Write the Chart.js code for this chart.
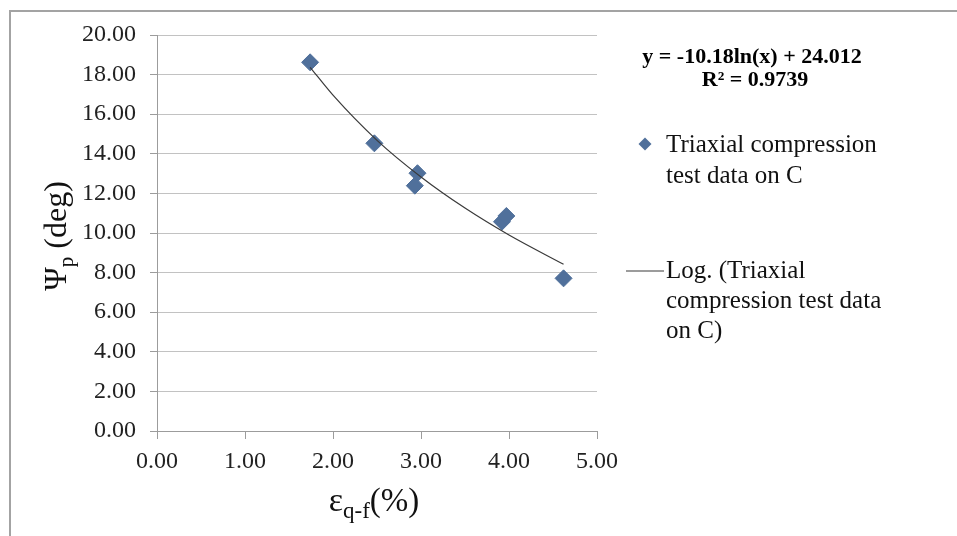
<!DOCTYPE html>
<html>
<head>
<meta charset="utf-8">
<script src="https://cdn.jsdelivr.net/npm/chart.js@4.4.1/dist/chart.umd.min.js"></script>
<style>
  html, body { margin: 0; padding: 0; background: #fff; }
  #wrap { width: 957px; height: 536px; position: relative; }
</style>
</head>
<body>
<div id="wrap"><canvas id="chart" width="957" height="536"></canvas></div>
<script>
// measured points (peak dilation angle vs axial strain at failure)
const strainPct = [1.74, 2.47, 2.96, 2.93, 3.92, 3.97, 4.62];
const dilationDeg = [18.62, 14.53, 13.02, 12.39, 10.57, 10.86, 7.71];

// log trendline, values
const trendX = [1.74, 2.0, 2.5, 3.0, 3.5, 4.0, 4.62];
const trendY = [18.37, 16.96, 14.68, 12.83, 11.26, 9.90, 8.42];

const xTicks = [0, 1, 2, 3, 4, 5];
const yTicks = [0, 2, 4, 6, 8, 10, 12, 14, 16, 18, 20];

const equationLines = ['y = -10.18ln(x) + 24.012', 'R\u00b2 = 0.9739'];
const legendPoints = ['Triaxial compression', 'test data on C'];
const legendTrend = ['Log. (Triaxial', 'compression test data', 'on C)'];

const markerColor = '#50709b';
const serif = '"Liberation Serif", "Times New Roman", serif';

// draws a row of text pieces with different sizes / baseline shifts
function drawRuns(ctx, runs, x, y) {
    let total = 0;
    runs.forEach(r => {
        ctx.font = r.size + 'px ' + serif;
        r.w = ctx.measureText(r.text).width;
        total += r.w;
    });
    let cx = x - total / 2;
    runs.forEach(r => {
        ctx.font = r.size + 'px ' + serif;
        ctx.fillText(r.text, cx, y + (r.dy || 0));
        cx += r.w;
    });
}

const extrasPlugin = {
    id: 'extras',
    afterDraw(chart) {
        const ctx = chart.ctx;
        ctx.save();

        // outer frame (only top and left edges are visible)
        ctx.strokeStyle = '#a3a3a3';
        ctx.lineWidth = 2;
        ctx.beginPath();
        ctx.moveTo(10, 536);
        ctx.lineTo(10, 11);
        ctx.lineTo(957, 11);
        ctx.stroke();

        ctx.fillStyle = '#000';
        ctx.textAlign = 'center';
        ctx.textBaseline = 'middle';
        ctx.font = 'bold 22px ' + serif;
        ctx.fillText(equationLines[0], 752, 57);
        ctx.fillText(equationLines[1], 755, 80);

        // legend
        ctx.textAlign = 'left';
        ctx.font = '25px ' + serif;
        ctx.fillStyle = '#111';
        legendPoints.forEach((t, i) => ctx.fillText(t, 666, 145 + i * 31));
        legendTrend.forEach((t, i) => ctx.fillText(t, 666, 271 + i * 30));

        ctx.fillStyle = markerColor;
        ctx.beginPath();
        ctx.moveTo(645, 137.5);
        ctx.lineTo(651.5, 144);
        ctx.lineTo(645, 150.5);
        ctx.lineTo(638.5, 144);
        ctx.closePath();
        ctx.fill();

        ctx.strokeStyle = '#3a3a3a';
        ctx.lineWidth = 1.2;
        ctx.beginPath();
        ctx.moveTo(626, 271);
        ctx.lineTo(664, 271);
        ctx.stroke();

        // axis titles
        ctx.fillStyle = '#111';
        ctx.textAlign = 'left';
        ctx.textBaseline = 'alphabetic';
        drawRuns(ctx, [
            { text: '\u03b5', size: 34 },
            { text: 'q-f', size: 23, dy: 7 },
            { text: '(%)', size: 33 }
        ], 374, 511);

        ctx.translate(66, 236);
        ctx.rotate(-Math.PI / 2);
        drawRuns(ctx, [
            { text: '\u03a8', size: 32 },
            { text: 'p', size: 21, dy: 7 },
            { text: ' (deg)', size: 32 }
        ], 0, 0);

        ctx.restore();
    }
};

new Chart(document.getElementById('chart'), {
    type: 'scatter',
    data: {
        datasets: [{
            label: 'Log. (Triaxial compression test data on C)',
            data: trendX.map((x, i) => ({ x: x, y: trendY[i] })),
            showLine: true,
            borderColor: '#3a3a3a',
            borderWidth: 1.2,
            pointRadius: 0,
            cubicInterpolationMode: 'monotone',
            order: 0
        }, {
            label: 'Triaxial compression test data on C',
            data: strainPct.map((x, i) => ({ x: x, y: dilationDeg[i] })),
            pointStyle: 'rectRot',
            pointRadius: 8.5,
            backgroundColor: markerColor,
            borderColor: markerColor,
            borderWidth: 1,
            order: 1
        }]
    },
    options: {
        responsive: false,
        animation: false,
        layout: { padding: { left: 0, top: 35, right: 360, bottom: 0 } },
        plugins: {
            legend: { display: false },
            tooltip: { enabled: false }
        },
        scales: {
            x: {
                type: 'linear',
                min: 0,
                max: 5,
                afterBuildTicks: s => { s.ticks = xTicks.map(v => ({ value: v })); },
                afterFit: s => { s.height = 105; },
                ticks: {
                    callback: v => v.toFixed(2),
                    font: { family: serif, size: 24 },
                    color: '#222',
                    padding: 8,
                    maxRotation: 0
                },
                grid: {
                    drawOnChartArea: false,
                    tickLength: 8,
                    tickColor: '#9c9c9c'
                },
                border: { color: '#9c9c9c' }
            },
            y: {
                type: 'linear',
                min: 0,
                max: 20,
                afterBuildTicks: s => { s.ticks = yTicks.map(v => ({ value: v })); },
                afterFit: s => { s.width = 157; },
                ticks: {
                    callback: v => v.toFixed(2),
                    font: { family: serif, size: 24 },
                    color: '#222',
                    padding: 14
                },
                grid: {
                    color: '#c2c2c2',
                    tickLength: 7,
                    tickColor: '#9c9c9c'
                },
                border: { color: '#9c9c9c' }
            }
        }
    },
    plugins: [extrasPlugin]
});
</script>
</body>
</html>
